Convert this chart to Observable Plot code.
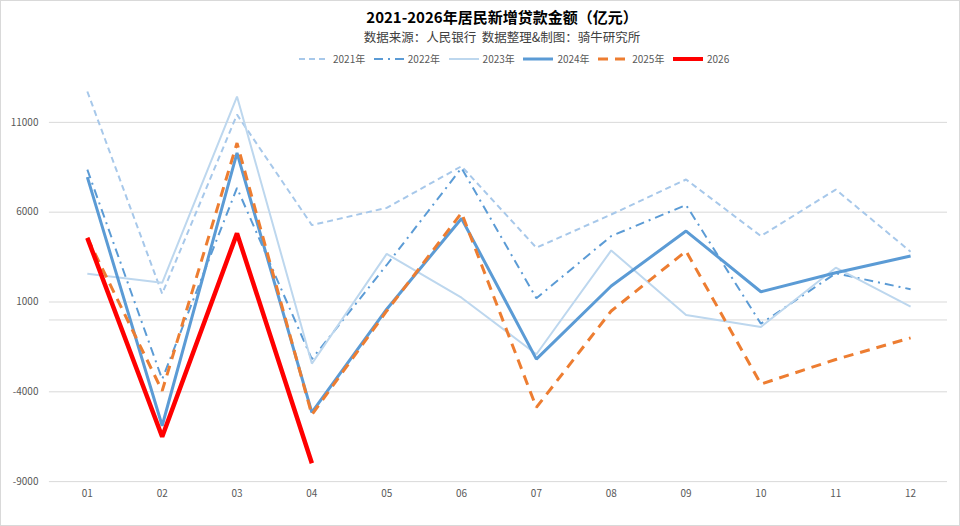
<!DOCTYPE html>
<html>
<head>
<meta charset="utf-8">
<script src="https://cdn.jsdelivr.net/npm/d3@7"></script>
<script src="https://cdn.jsdelivr.net/npm/@observablehq/plot@0.6"></script>
<style>
  html, body { margin: 0; padding: 0; background: #fff; }
  #wrap { position: relative; width: 960px; height: 526px; box-sizing: border-box; border: 1px solid #d9d9d9; overflow: hidden;
          font-family: "Noto Sans CJK SC", "Noto Sans", sans-serif; }
  .title { position: absolute; left: 501px; transform: translateX(-50%); white-space: nowrap; }
  #t1 { top: 7px; height: 18px; line-height: 18px; font-size: 15px; font-weight: bold; color: #000; }
  #t2 { top: 28px; height: 15px; line-height: 15px; font-size: 12.5px; color: #404040; }
  .leg { position: absolute; top: 51px; height: 14px; line-height: 14px; display: flex; align-items: center; font-size: 10px; color: #595959; white-space: nowrap; }
  .leg svg { margin-right: 4px; }
  #chart { position: absolute; left: 0; top: 60px; }
</style>
</head>
<body>
<div id="wrap">
  <div class="title" id="t1">2021-2026年居民新增贷款金额（亿元）</div>
  <div class="title" id="t2">数据来源：人民银行&nbsp;&nbsp;数据整理&amp;制图：骑牛研究所</div>
  <div id="legend"></div>
  <div id="chart"></div>
</div>
<script>
const months = ["01","02","03","04","05","06","07","08","09","10","11","12"];
const yTicks = [-9000, -4000, 1000, 6000, 11000];

const v2021 = [12720, 1460, 11430, 5280, 6240, 8560, 4020, 5870, 7820, 4670, 7260, 3800];
const v2022 = [8370, -3300, 7350, -2180, 3060, 8460, 1210, 4670, 6400, -210, 2600, 1710];
const v2023 = [2570, 2070, 12440, -2430, 3680, 1240, -1910, 3870, 280, -390, 2910, 740];
const v2024 = [7950, -5890, 9300, -5150, 600, 5650, -2180, 1890, 4950, 1570, 2630, 3560];
const v2025 = [4570, -3950, 9850, -5280, 500, 5960, -4870, 500, 3830, -3570, -2200, -1000];
const v2026 = [4570, -6500, 4820, -7980];

const seriesNames = ["2021年", "2022年", "2023年", "2024年", "2025年", "2026"];
const seriesValues = [v2021, v2022, v2023, v2024, v2025, v2026];
const seriesStyle = [
  {stroke: "#a7c8ea", strokeWidth: 2, dash: "6,4"},
  {stroke: "#5b9bd5", strokeWidth: 2, dash: "9,5,2,5"},
  {stroke: "#bdd7ee", strokeWidth: 2, dash: null},
  {stroke: "#5b9bd5", strokeWidth: 3, dash: null},
  {stroke: "#ed7d31", strokeWidth: 3, dash: "10,7"},
  {stroke: "#ff0000", strokeWidth: 4.5, dash: null}
];

const rows = seriesNames.flatMap((name, i) =>
  seriesValues[i].map((v, j) => ({series: name, month: months[j], value: v})));

const lineMarks = seriesNames.map((name, i) => Plot.line(rows.filter(d => d.series === name), {
  x: "month", y: "value",
  stroke: seriesStyle[i].stroke,
  strokeWidth: seriesStyle[i].strokeWidth,
  strokeDasharray: seriesStyle[i].dash,
  strokeLinejoin: "miter",
  strokeLinecap: "butt"
}));

const chart = Plot.plot({
  width: 960,
  height: 466,
  marginLeft: 48,
  marginRight: 12,
  marginTop: 61,
  marginBottom: 45,
  style: {fontFamily: "'Noto Sans CJK SC', 'Noto Sans', sans-serif", fontSize: "10px", color: "#595959", background: "transparent", overflow: "visible"},
  x: {type: "point", domain: months, padding: 0.5, label: null},
  y: {domain: [-9000, 11000], label: null},
  marks: [
    Plot.ruleY(yTicks, {stroke: "#d9d9d9", strokeWidth: 1}),
    Plot.ruleY([0], {stroke: "#d9d9d9", strokeWidth: 1}),
    Plot.axisY({ticks: yTicks, tickSize: 0, tickPadding: 11, label: null, tickFormat: d => String(d)}),
    Plot.axisX({tickSize: 0, tickPadding: 8, label: null}),
    ...lineMarks
  ]
});
document.getElementById("chart").appendChild(chart);

// legend
const legend = document.getElementById("legend");
seriesNames.forEach((name, i) => {
  const s = seriesStyle[i];
  const item = document.createElement("div");
  item.className = "leg";
  item.style.left = (298 + i * 74.8) + "px";
  const w = 30;
  item.innerHTML = `<svg width="${w}" height="8"><line x1="0" y1="4" x2="${w}" y2="4" stroke="${s.stroke}" stroke-width="${Math.min(s.strokeWidth, 4)}" ${s.dash ? `stroke-dasharray="${s.dash}"` : ""}/></svg><span>${name}</span>`;
  legend.appendChild(item);
});
</script>
</body>
</html>
